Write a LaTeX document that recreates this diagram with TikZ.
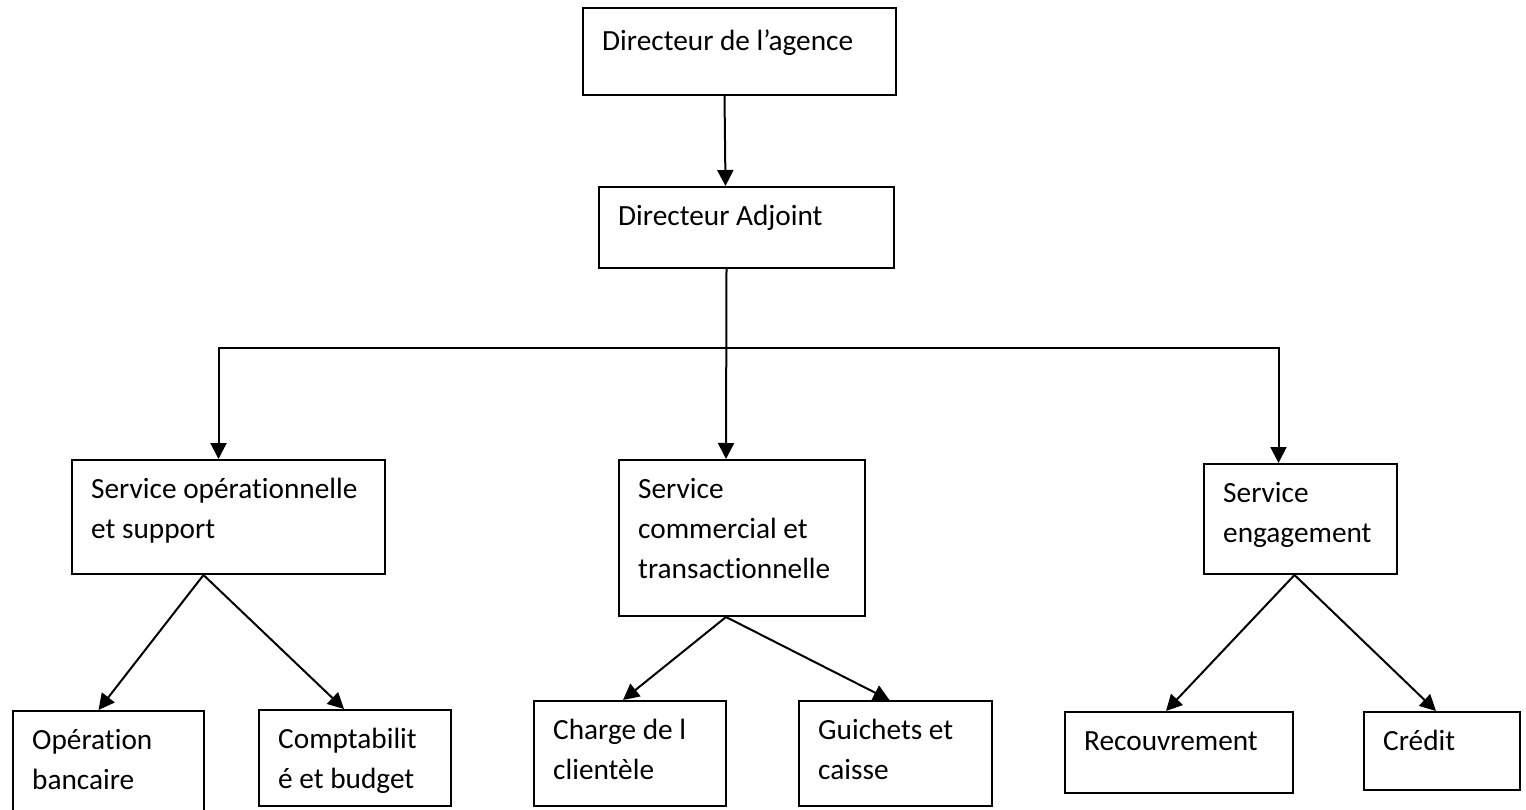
\documentclass[tikz,border=0pt]{standalone}
\usepackage{fontspec}
\setmainfont{Carlito}[Ligatures={TeX,NoCommon}]
\usetikzlibrary{
  arrows.meta,
  positioning,
}
\tikzset{
  >={Triangle[length=16pt,width=16pt]},
  orgbox/.style={draw,rectangle,anchor=north west,inner sep=0pt,line width=2pt},
  txt/.style={anchor=north west,align=left,inner sep=0pt,xshift=20pt,yshift=-11pt,
    font=\fontsize{29.3}{40}\selectfont},
  link/.style={->,line width=2pt},
}
\begin{document}
\begin{tikzpicture}[x=1pt,y=-1pt]
      \useasboundingbox (0,0) rectangle (1526,810);
      \clip (0,0) rectangle (1526,810);

      % direction
      \node[orgbox,minimum width=313,minimum height=87,label={[txt,yshift=-4pt]north west:\strut Directeur de l’agence}]    (dir) at (582,7)    {};
      \node[orgbox,minimum width=295,minimum height=81,label={[txt]north west:\strut Directeur Adjoint}]    (adj) at (598,186)    {};

      % services
      \node[orgbox,minimum width=313,minimum height=114,label={[txt]north west:\strut Service opérationnelle\\et support}]    (svcop) at (71,459)    {};
      \node[orgbox,minimum width=246,minimum height=156,label={[txt]north west:\strut Service\\commercial et\\transactionnelle}]    (svccom) at (618,459)    {};
      \node[orgbox,minimum width=193,minimum height=110,label={[txt]north west:\strut Service\\engagement}]    (svceng) at (1203,463)    {};

      % cellules
      \node[orgbox,minimum width=191,minimum height=112,label={[txt]north west:\strut Opération\\bancaire}]    (opb) at (12,710)    {};
      \node[orgbox,minimum width=192,minimum height=96,label={[txt]north west:\strut Comptabilit\\é et budget}]    (compta) at (258,709)    {};
      \node[orgbox,minimum width=192,minimum height=105,label={[txt]north west:\strut Charge de l\\clientèle}]    (charge) at (533,700)    {};
      \node[orgbox,minimum width=193,minimum height=105,label={[txt]north west:\strut Guichets et\\caisse}]    (guichet) at (798,700)    {};
      \node[orgbox,minimum width=228,minimum height=81,label={[txt]north west:\strut Recouvrement}]    (recouv) at (1064,711)    {};
      \node[orgbox,minimum width=156,minimum height=78,label={[txt]north west:\strut Crédit}]    (credit) at (1363,711)    {};

      \coordinate (hub) at (725,348);

      \draw[link] ([xshift=-15pt]dir.south) -- ([xshift=-21pt]adj.north);
      \draw[link] ([xshift=-20pt]adj.south) -- ([xshift=-16pt]svccom.north);
      \draw[link] (hub) -| ([xshift=-10pt]svcop.north);
      \draw[link] (hub) -| ([xshift=-22pt]svceng.north);

      \draw[link] ([xshift=-25pt]svcop.south) -- ([xshift=-10pt]opb.north);
      \draw[link] ([xshift=-25pt]svcop.south) -- ([xshift=-11pt]compta.north);
      \draw[link] ([xshift=-16pt]svccom.south) -- ([xshift=-7pt]charge.north);
      \draw[link] ([xshift=-16pt]svccom.south) -- ([xshift=-6pt]guichet.north);
      \draw[link] ([xshift=-6pt]svceng.south) -- ([xshift=-13pt]recouv.north);
      \draw[link] ([xshift=-6pt]svceng.south) -- ([xshift=-6pt]credit.north);

    \end{tikzpicture}
\end{document}
